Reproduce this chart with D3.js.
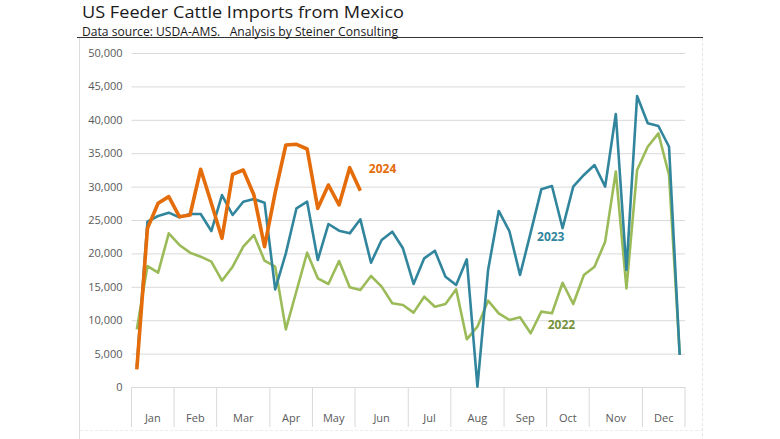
<!DOCTYPE html>
<html>
    <head>
        <meta charset="utf-8">
        <title>US Feeder Cattle Imports from Mexico</title>
        <style>
            body { margin: 0; background: #fff; }
            svg text { font-family: "Open Sans", "DejaVu Sans", sans-serif; }
        </style>
    </head>
    <body>
    </body>
    <script src="https://d3js.org/d3.v7.min.js"></script>
    <script>

        // Weekly head counts (52 weeks, 2024 stops at week 22)
        var months = ["Jan", "Feb", "Mar", "Apr", "May", "Jun", "Jul", "Aug", "Sep", "Oct", "Nov", "Dec"];
        var weeksPerMonth = [4, 4, 5, 4, 4, 5, 4, 5, 4, 4, 5, 4];
        var yTicks = [0, 5000, 10000, 15000, 20000, 25000, 30000, 35000, 40000, 45000, 50000];

        var y2022 = [8630, 18110, 17110, 23000, 21260, 20110, 19510, 18760, 15910, 18010, 21000, 22750, 18910,
                     18010, 8630, 14370, 20110, 16270, 15420, 18860, 14920, 14520, 16620, 15020, 12530, 12280,
                     11130, 13520, 12020, 12420, 14620, 7140, 9030, 12920, 11030, 10030, 10430, 8040, 11280,
                     11030, 15610, 12420, 16770, 18010, 21760, 32240, 14770, 32490, 35970, 37970, 31740, 5040];

        var y2023 = [3000, 24750, 25600, 26100, 25400, 25900, 25900, 23350, 28740, 25750, 27740, 28140, 27590,
                     14620, 20010, 26750, 27740, 19010, 24400, 23400, 23000, 25100, 18610, 22000, 23250, 20760,
                     15420, 19260, 20400, 16510, 15270, 19110, 50, 17500, 26350, 23350, 16770, 23100, 29590,
                     30090, 23760, 29990, 31740, 33230, 29990, 40870, 17520, 43560, 39480, 39070, 35970, 4790];

        var y2024 = [2650, 23750, 27500, 28500, 25500, 25750, 32600, 27500, 22260, 31840, 32480, 28740, 21000,
                     29090, 36230, 36330, 35630, 26750, 30240, 27250, 32830, 29390];

        var seriesNames = ["2022", "2023", "2024"];
        var seriesColors = ["#9bbb59", "#31859c", "#e46c0a"];
        var labelColors = ["#76923c", "#31859c", "#e46c0a"];
        var seriesWidths = [2.6, 2.6, 3.6];
        // where the year labels sit (week index, value)
        var labelWeeks = [38.6, 37.6, 21.8];
        var labelValues = [9300, 22500, 32600];

        var W = 780, H = 439;
        var plot = {left: 131.5, right: 685, top: 53, bottom: 387};

        var svg = d3.select("body").append("svg")
            .attr("width", W)
            .attr("height", H);

        // Scales
        var nWeeks = d3.sum(weeksPerMonth);
        var x = d3.scaleBand()
            .domain(d3.range(nWeeks))
            .range([plot.left, plot.right])
            .padding(0);
        var y = d3.scaleLinear()
            .domain([0, 50000])
            .range([plot.bottom, plot.top]);
        var cx = function(i) { return x(i) + x.bandwidth() / 2; };
        var cxf = function(w) { return plot.left + (w + 0.5) * x.bandwidth(); };

        // Frame: subtitle rule, left border, right dashed border, faint bottom
        svg.append("line")
            .attr("x1", 79.5).attr("x2", 79.5).attr("y1", 38).attr("y2", H)
            .attr("stroke", "#dcdcdc");
        svg.append("line")
            .attr("x1", 702.5).attr("x2", 702.5).attr("y1", 38).attr("y2", H)
            .attr("stroke", "#e6e6e6").attr("stroke-dasharray", "3,2");
        svg.append("line")
            .attr("x1", 80).attr("x2", 702).attr("y1", 430.5).attr("y2", 430.5)
            .attr("stroke", "#ececec").attr("stroke-dasharray", "3,2");
        svg.append("line")
            .attr("x1", 77).attr("x2", 703).attr("y1", 37.5).attr("y2", 37.5)
            .attr("stroke", "#333").attr("stroke-width", 1);

        // Titles
        svg.append("text")
            .attr("x", 82).attr("y", 18)
            .attr("font-size", 17)
            .attr("fill", "#1a1a1a")
            .attr("textLength", 322)
            .attr("lengthAdjust", "spacingAndGlyphs")
            .text("US Feeder Cattle Imports from Mexico");
        svg.append("text")
            .attr("x", 82).attr("y", 36)
            .attr("font-size", 12.5)
            .attr("fill", "#1a1a1a")
            .attr("textLength", 316)
            .attr("lengthAdjust", "spacingAndGlyphs")
            .style("white-space", "pre")
            .text("Data source: USDA-AMS.   Analysis by Steiner Consulting");

        // Gridlines + y labels
        var yAxis = svg.append("g")
            .attr("class", "yaxis")
            .attr("transform", "translate(" + plot.left + ",0)")
            .call(d3.axisLeft(y)
                .tickValues(yTicks)
                .tickSize(-(plot.right - plot.left))
                .tickPadding(9)
                .tickFormat(d3.format(",")));
        yAxis.select(".domain").remove();
        yAxis.selectAll(".tick line")
            .attr("stroke", "#d9d9d9");
        yAxis.selectAll(".tick text")
            .attr("fill", "#595959")
            .attr("font-size", 11);

        // Month group axis: baseline, separators, centred labels
        var monthStart = [0];
        weeksPerMonth.forEach(function(n, i) { monthStart.push(monthStart[i] + n); });

        svg.append("line")
            .attr("x1", plot.left).attr("x2", plot.right)
            .attr("y1", plot.bottom + 0.5).attr("y2", plot.bottom + 0.5)
            .attr("stroke", "#d9d9d9");

        svg.selectAll(".msep")
            .data(monthStart)
            .enter().append("line")
            .attr("class", "msep")
            .attr("x1", function(d) { return d < nWeeks ? x(d) : plot.right; })
            .attr("x2", function(d) { return d < nWeeks ? x(d) : plot.right; })
            .attr("y1", plot.bottom)
            .attr("y2", 427)
            .attr("stroke", "#d9d9d9");

        svg.selectAll(".mlabel")
            .data(months)
            .enter().append("text")
            .attr("class", "mlabel")
            .attr("x", function(d, i) { return cxf((monthStart[i] + monthStart[i + 1]) / 2 - 0.5); })
            .attr("y", 422)
            .attr("text-anchor", "middle")
            .attr("font-size", 11)
            .attr("fill", "#595959")
            .text(function(d) { return d; });

        // Series lines, drawn in year order so 2024 sits on top
        var line = d3.line()
            .x(function(d, i) { return cx(i); })
            .y(function(d) { return y(d); });

        [y2022, y2023, y2024].forEach(function(vals, k) {
            svg.append("path")
                .datum(vals)
                .attr("d", line)
                .attr("fill", "none")
                .attr("stroke", seriesColors[k])
                .attr("stroke-width", seriesWidths[k])
                .attr("stroke-linejoin", "round");
        });

        // Year labels
        svg.selectAll(".ylabel")
            .data(seriesNames)
            .enter().append("text")
            .attr("class", "ylabel")
            .attr("x", function(d, i) { return cxf(labelWeeks[i]); })
            .attr("y", function(d, i) { return y(labelValues[i]); })
            .attr("dy", "0.35em")
            .attr("font-size", 12)
            .attr("font-weight", "bold")
            .attr("fill", function(d, i) { return labelColors[i]; })
            .text(function(d) { return d; });

    </script>
</html>
